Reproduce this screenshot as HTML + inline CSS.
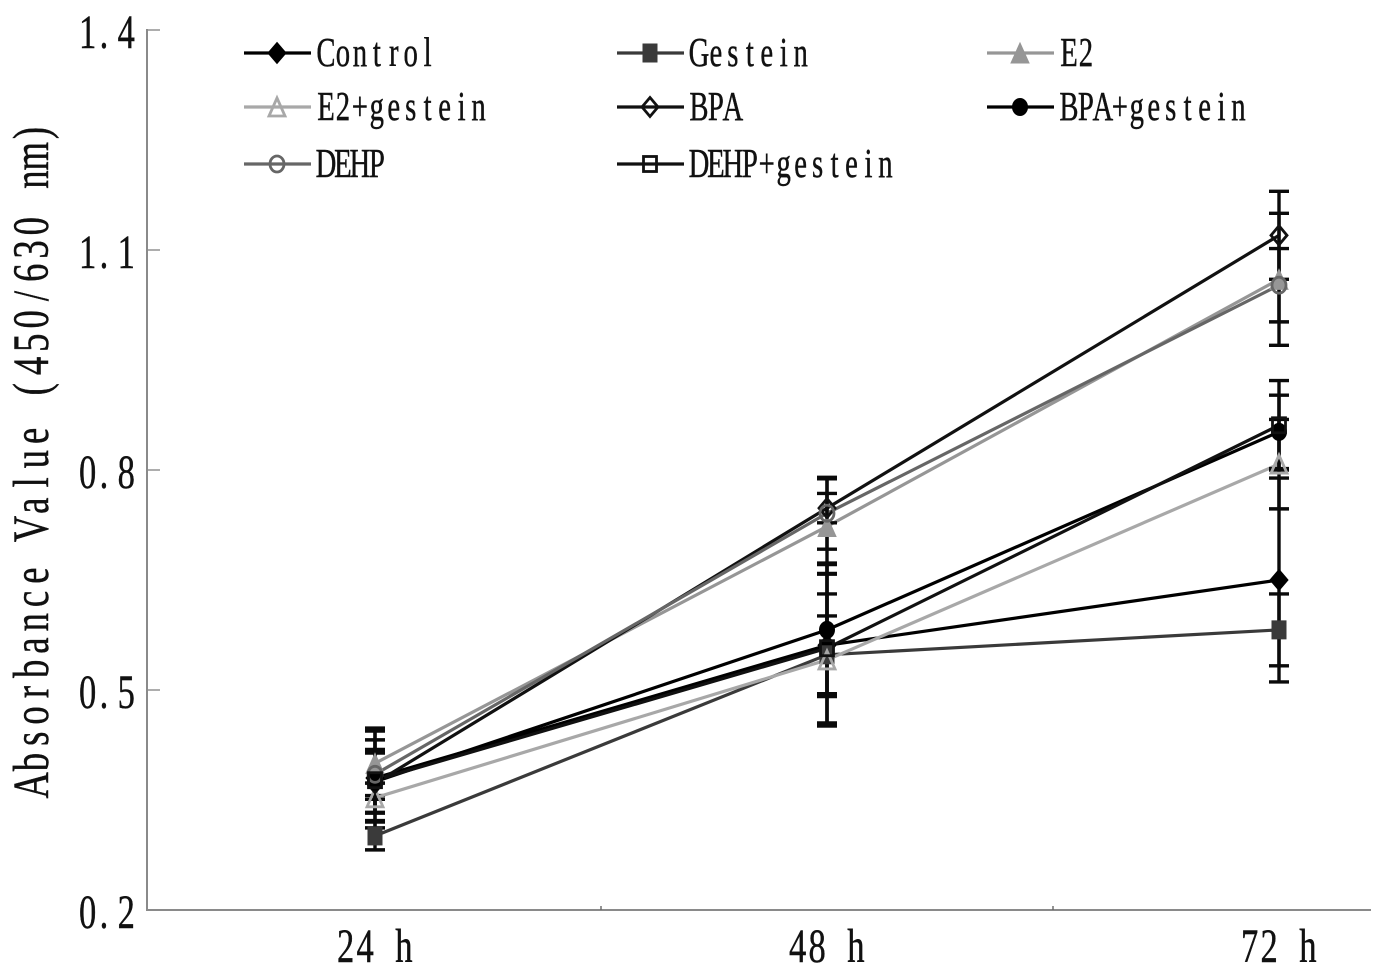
<!DOCTYPE html>
<html>
<head>
<meta charset="utf-8">
<style>
html,body{margin:0;padding:0;background:#fff;}
svg{display:block;}
text{font-family:"Liberation Serif",serif;fill:#111;stroke:#111;stroke-width:0.45;}
</style>
</head>
<body>
<svg id="chart" width="1383" height="978" viewBox="0 0 1383 978" xmlns="http://www.w3.org/2000/svg">
<rect x="0" y="0" width="1383" height="978" fill="#fff"/>
<text id="y-title" transform="translate(48,797) rotate(-90) scale(0.72,1)" font-size="51">Absorbance Value (450/630 nm)</text>
<g id="plot"></g>
<g id="legend"></g>
</svg>
<script>
const categories = ['24 h', '48 h', '72 h'];
const yTickValues = [0.2, 0.5, 0.8, 1.1, 1.4];
const yTickLabels = ['0.2', '0.5', '0.8', '1.1', '1.4'];
const seriesNames = ['Control', 'Gestein', 'E2', 'E2+gestein', 'BPA', 'BPA+gestein', 'DEHP', 'DEHP+gestein'];

const controlValues = [0.380, 0.561, 0.650];
const gesteinValues = [0.301, 0.548, 0.582];
const e2Values = [0.400, 0.723, 1.060];
const e2GesteinValues = [0.353, 0.541, 0.808];
const bpaValues = [0.373, 0.748, 1.120];
const bpaGesteinValues = [0.375, 0.582, 0.852];
const dehpValues = [0.385, 0.741, 1.052];
const dehpGesteinValues = [0.377, 0.557, 0.861];

const controlErrors = [0.068, 0.110, 0.139];
const gesteinErrors = [0.019, 0.053, 0.049];
const e2Errors = [0.044, 0.065, 0.090];
const e2GesteinErrors = [0.020, 0.090, 0.061];
const bpaErrors = [0.041, 0.020, 0.060];
const bpaGesteinErrors = [0.042, 0.091, 0.050];
const dehpErrors = [0.034, 0.049, 0.050];
const dehpGesteinErrors = [0.055, 0.102, 0.061];

const allValues = [controlValues, gesteinValues, e2Values, e2GesteinValues, bpaValues, bpaGesteinValues, dehpValues, dehpGesteinValues];
const allErrors = [controlErrors, gesteinErrors, e2Errors, e2GesteinErrors, bpaErrors, bpaGesteinErrors, dehpErrors, dehpGesteinErrors];
const seriesColors = ['#000000', '#3a3a3a', '#969696', '#a8a8a8', '#111111', '#000000', '#666666', '#111111'];
const seriesMarkers = ['diamond', 'square', 'triangle', 'triangle', 'diamond', 'circle', 'circle', 'square'];
const seriesFilled = [true, true, true, false, false, true, false, false];

const NS = 'http://www.w3.org/2000/svg';
const AXIS_LEFT = 147, AXIS_RIGHT = 1371, AXIS_BOTTOM = 910, AXIS_TOP = 30;
const STEP_X = 452;
const measureCtx = document.createElement('canvas').getContext('2d');

function xScale(i) { return AXIS_LEFT + 228 + i * STEP_X; }
function yScale(v) { return AXIS_BOTTOM - (v - 0.2) / 1.2 * (AXIS_BOTTOM - AXIS_TOP); }
function slug(s) { return s.toLowerCase().replace(/[^a-z0-9]+/g, '-'); }

function make(tag, attrs, parent) {
  const el = document.createElementNS(NS, tag);
  for (const k in attrs) el.setAttribute(k, attrs[k]);
  parent.appendChild(el);
  return el;
}

// Lay out a proportional serif string on a fixed character grid (half-width look).
function gridPositions(str, size, squeeze, cell) {
  measureCtx.font = size + 'px "Liberation Serif"';
  return Array.from(str).map(function (ch, i) {
    const w = measureCtx.measureText(ch).width * squeeze;
    const offset = ch === '.' ? cell * 0.12 : (cell - w) / 2;
    return ((i * cell + offset) / squeeze).toFixed(2);
  }).join(' ');
}

function gridText(parent, str, x, y, size, squeeze, cell) {
  const t = make('text', {
    transform: 'translate(' + x + ',' + y + ') scale(' + squeeze + ',1)',
    'font-size': size,
    x: gridPositions(str, size, squeeze, cell),
    y: 0
  }, parent);
  t.textContent = str;
  return t;
}

function drawMarker(parent, type, cx, cy, color, filled) {
  const fill = filled ? color : 'none';
  const sw = filled ? 1 : 2.8;
  if (type === 'diamond') {
    const w = filled ? 9 : 8, h = filled ? 10.5 : 9.5;
    return make('polygon', { points: [cx, cy - h, cx + w, cy, cx, cy + h, cx - w, cy].join(','), fill: fill, stroke: color, 'stroke-width': sw }, parent);
  }
  if (type === 'square') {
    const w = filled ? 7 : 6.5, h = filled ? 9 : 7.5;
    return make('rect', { x: cx - w, y: cy - h, width: 2 * w, height: 2 * h, fill: fill, stroke: color, 'stroke-width': sw }, parent);
  }
  if (type === 'triangle') {
    const w = filled ? 9 : 8, h = filled ? 10 : 9;
    return make('polygon', { points: [cx, cy - h, cx + w, cy + h, cx - w, cy + h].join(','), fill: fill, stroke: color, 'stroke-width': sw }, parent);
  }
  return make('ellipse', { cx: cx, cy: cy, rx: filled ? 7.5 : 7, ry: filled ? 8.5 : 8, fill: fill, stroke: color, 'stroke-width': sw }, parent);
}

const plot = document.getElementById('plot');
const legend = document.getElementById('legend');
const yTitle = document.getElementById('y-title');
yTitle.setAttribute('x', gridPositions(yTitle.textContent, 51, 0.72, 23.3));
yTitle.setAttribute('y', '0');

const yAxisLine = make('line', { x1: AXIS_LEFT, y1: AXIS_TOP - 1, x2: AXIS_LEFT, y2: AXIS_BOTTOM + 1, stroke: '#8a8a8a', 'stroke-width': 2 }, plot);



const xAxisLine = make('line', { x1: AXIS_LEFT, y1: AXIS_BOTTOM, x2: AXIS_RIGHT, y2: AXIS_BOTTOM, stroke: '#8a8a8a', 'stroke-width': 2 }, plot);



yTickValues.forEach(function (v, i) {
  const y = yScale(v);
  if (v > 0.2) {
    const tick = make('line', { x1: AXIS_LEFT, y1: y, x2: AXIS_LEFT + 13, y2: y, stroke: '#8a8a8a', 'stroke-width': 1.4 }, plot);
    
    
  }
  const label = gridText(plot, yTickLabels[i], 78, y + 18, 48, 0.72, 19.3);
  
  
});

categories.forEach(function (c, i) {
  const label = gridText(plot, c, xScale(i) - 39, 962, 48, 0.72, 19.4);
  
  
  if (i > 0) {
    const tx = xScale(i) - STEP_X / 2;
    const tick = make('line', { x1: tx, y1: AXIS_BOTTOM, x2: tx, y2: AXIS_BOTTOM - 4, stroke: '#666', 'stroke-width': 1.4 }, plot);
    
    
  }
});

const linesLayer = make('g', {}, plot);



const markersLayer = make('g', {}, plot);



seriesNames.forEach(function (name, s) {
  const color = seriesColors[s];

  const pts = allValues[s].map(function (v, i) { return xScale(i) + ',' + yScale(v); }).join(' ');
  const line = make('polyline', { points: pts, fill: 'none', stroke: color, 'stroke-width': 3.2 }, linesLayer);
  
  

  allValues[s].forEach(function (v, i) {
    const e = allErrors[s][i];
    const x = xScale(i);
    const hi = yScale(v + e), lo = yScale(v - e);
    const bar = make('path', {
      d: 'M' + x + ' ' + hi + 'V' + lo + 'M' + (x - 10) + ' ' + hi + 'H' + (x + 10) + 'M' + (x - 10) + ' ' + lo + 'H' + (x + 10),
      fill: 'none', stroke: '#0a0a0a', 'stroke-width': 3.4
    }, linesLayer);
    
    
  });

  allValues[s].forEach(function (v, i) {
    const mark = drawMarker(markersLayer, seriesMarkers[s], xScale(i), yScale(v), color, seriesFilled[s]);
    
    
  });

  const col = s % 3, row = Math.floor(s / 3);
  const lx = [244, 617, 987][col];
  const ly = [53, 107, 164][row];
  const entry = make('g', {}, legend);
  
  
  const swatch = make('line', { x1: lx, y1: ly, x2: lx + 67, y2: ly, stroke: color, 'stroke-width': 3.2 }, entry);
  
  
  const glyph = drawMarker(entry, seriesMarkers[s], lx + 33, ly, color, seriesFilled[s]);
  
  
  const text = gridText(entry, name, lx + 73.5, ly + 13, 41, 0.7, 16.95);
  
  
});
</script>
</body>
</html>
